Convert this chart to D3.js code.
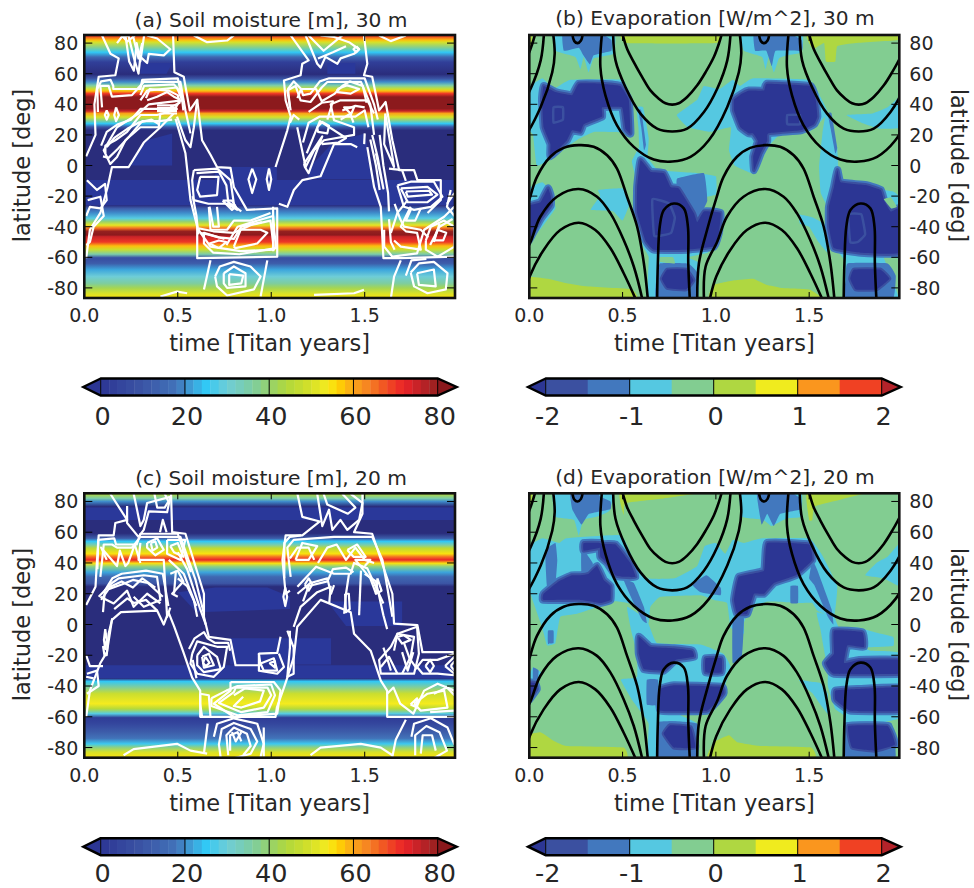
<!DOCTYPE html>
<html><head><meta charset="utf-8">
<script src="https://cdnjs.cloudflare.com/ajax/libs/d3/7.8.5/d3.min.js"></script>
<style>html,body{margin:0;background:#fff}svg{display:block}text{font-family:"DejaVu Sans";fill:#262626}</style>
</head><body><svg id="c" width="974" height="888"></svg>
<script>
// ---- soil moisture colour levels
const soilStops=[0,10,18,22,25,30,36,40,44,50,54,56,60,64,68,72,76,80,85];
const soilStopColors=["#2c3694","#3b55a5","#4273b9","#3ca5dc","#32c8f5","#6ecdd7","#7dcda0","#96d26e","#afd73c","#d7e128","#f5eb1e","#ffd700","#faa519","#f57d23","#f04b23","#eb2328","#be2328","#96201f","#8a181c"];
const evapLevels=[-2,-1.5,-1,-.5,0,.5,1,1.5,2];
const evapColors=["#3b50a0","#4278be","#55c8e1","#82cd91","#afd741","#f0eb1e","#fa961e","#f04123"];
const evapUnder="#2c3694", evapOver="#b4232a", soilUnder="#2c3694", soilOver="#8a181c";
const soilTicks=[0,20,40,60,80], evapTicks=[-2,-1,0,1,2];
const xTicks=[0,.5,1,1.5], yTicks=[80,60,40,20,0,-20,-40,-60,-80];
const titles=["(a) Soil moisture [m], 30 m","(b) Evaporation [W/m^2], 30 m","(c) Soil moisture [m], 20 m","(d) Evaporation [W/m^2], 20 m"];
// ---- soil profiles vs latitude
const soilLatA=[85,84.3,82,80.6,77.4,74,70.9,67.6,59.6,56.7,54.6,52.4,50,48.7,47,44.8,37.2,35.6,34,31.7,29.6,27.4,25.2,23,-26,-28,-31,-34.5,-36.7,-39,-41,-43,-45.4,-46.5,-50,-52.6,-55,-58,-60.2,-61,-64,-68,-72.6,-77,-80,-83.5,-87];
const soilValA=[70,68,58,50,38,25,15,3,0,10,20,35,48,58,70,84,84,75,60,50,38,25,10,1,1,12,20,28,40,52,65,80,84,75,70,58,48,35,10,8,12,22,30,36,42,50,55];
const soilLatC=[85,82,80,76.7,59.3,56,54,51.7,49.6,46,44,42,39.8,37.6,34,31,26.7,24.6,-35,-37,-40.6,-45,-51.5,-54.8,-58,-60.6,-64.5,-70,-74,-77.6,-79.8,-83,-87];
const soilValC=[45,35,20,1,0,12,25,35,46,55,65,72,55,38,22,15,10,1,1,25,36,48,54,45,28,2,5,12,18,26,38,50,55];
const shadeA=[[[0,-9.5],[1.98,-9.5],[1.98,-26],[0,-26]],[[.15,0],[.24,0],[.32,16],[.47,21],[.47,0]],[[.7,-1],[1.03,-1],[1.03,-9.5],[.7,-9.5]],[[1.2,-2],[1.33,15],[1.5,21],[1.55,-9],[1.2,-9]],[[.3,67],[.47,67],[.44,60],[.3,60]],[[1.3,67],[1.45,67],[1.45,60],[1.3,60]]];
const shadeC=[[[0,-26.5],[1.98,-26.5],[1.98,-35],[0,-35]],[[.78,-9],[1.32,-9],[1.32,-26],[.78,-26]],[[.5,21],[.7,24],[.98,24],[1.1,18],[1.1,10],[.6,8]],[[1.3,15],[1.7,15],[1.7,-1],[1.4,-1]],[[0,68],[1.98,68],[1.98,76],[0,76]]];
// ---- white contours, panel (a)
const whiteA=[
[[.01,6],[.06,20],[.054,40],[.077,58],[.166,59],[.184,70],[.14,73],[.095,85]],
[[.475,85],[.482,61],[.532,58],[.564,36],[.604,43],[.63,16.5],[.675,7],[.71,-1],[.782,-1.5],[.8,-14],[.87,-29],[1.032,-28],[1.032,-59.6],[.604,-60.6],[.604,-40],[.568,-22.6],[.541,8],[.488,30.6]],
[[.01,-60.6],[.03,-42],[.086,-31],[.125,-14],[.148,-1],[.2375,-1],[.318,15],[.407,25],[.478,34]],
[[1.023,-1],[1.086,23],[1.104,32],[1.077,42.6],[1.068,55.6],[1.157,59],[1.166,66.5],[1.2,68.7],[1.104,85]],
[[1.496,85],[1.514,66.5],[1.496,59],[1.54,58],[1.577,36],[1.612,41.5],[1.648,16.5],[1.684,-3],[1.764,-3],[1.782,-9.6],[1.907,-9.6],[1.907,-22.6],[1.836,-31]],
[[1.514,12],[1.55,-14],[1.586,-27],[1.6,-60.6],[1.693,-60.6],[1.979,-59.6]],
[[1.041,-25],[1.086,-27],[1.121,-16],[1.166,-9.6],[1.264,-7],[1.336,14],[1.425,14],[1.46,12]],
[[.675,-62],[.64,-81]],[[.979,-62],[.943,-85.6]],
[[1.693,-62],[1.657,-72.6],[1.64,-86.7]],
[[.407,-85.6],[.496,-82.4],[.55,-83.5]],[[1.229,-84.6],[1.443,-83.5],[1.496,-81.3]],
[[.586,85],[.657,80.6],[.764,81.7],[.8,85]],[[1.577,85],[1.639,81.3],[1.72,85]],
[[.095,38],[.086,52],[.13,52],[.148,45],[.255,46],[.291,51],[.318,54.6],[.514,54.6],[.541,36],[.568,21]],
[[.3,42.6],[.336,49],[.496,51],[.523,42.6],[.345,40],[.291,34],[.175,25],[.104,10],[.139,1],[.175,5.6],[.22,16.5],[.3,25],[.398,25],[.407,34],[.496,34]],
[[.113,8],[.1125,13],[.166,16.5],[.229,22],[.3,33],[.389,33],[.48,36],[.514,43]],
[[.336,42.6],[.389,45],[.443,48],[.479,45],[.514,43]],
[[.389,39.3],[.496,39.3]],[[.389,37.5],[.496,37.5]],[[.389,35.6],[.496,35.6]],
[[.12,36],[.13,33],[.12,30],[.11,33],[.12,36]],[[.17,38],[.185,33],[.17,29],[.16,33],[.17,38]],
[[.496,32],[.541,16.5],[.568,12],[.586,25],[.604,43]],
[[.62,-7.4],[.718,-7.4],[.71,-19.3],[.62,-20.4],[.604,-16],[.62,-7.4]],
[[.586,-3],[.711,-2],[.782,-9.6],[.8,-25],[.818,-29],[.764,-25],[.664,-25],[.586,-22.6],[.577,-9.6],[.586,-3]],
[[.898,-2],[.92,-9],[.898,-18],[.878,-9],[.898,-2]],[[.988,-2],[1,-9],[.988,-16],[.976,-9],[.988,-2]],
[[.666,-27],[.675,-42],[.764,-42],[.8,-36],[.889,-36],[.996,-31]],
[[.61,-41],[.69,-43],[.8,-44],[.836,-42],[.889,-39],[.996,-36],[1.014,-55],[.836,-56],[.675,-53],[.61,-42]],
[[.8,-53],[.836,-42],[.943,-42],[.979,-44],[.925,-51],[.809,-54],[.8,-53]],
[[.76,-52],[.82,-40],[.9,-37],[1.01,-33],[1.025,-54],[.83,-58],[.69,-57],[.64,-51],[.64,-44],[.75,-48]],
[[.7,-72.6],[.725,-66],[.8,-63],[.889,-66],[.943,-72.6],[.907,-81],[.764,-85],[.71,-79],[.7,-72.6]],
[[.746,-70.4],[.8,-66],[.8625,-70.4],[.8625,-79],[.764,-80],[.746,-77],[.746,-70.4]],
[[.775,-71],[.85,-72],[.84,-77],[.775,-78],[.775,-71]],
[[.175,80],[.2,84],[.236,85],[.264,71],[.29,60],[.3,71],[.336,67],[.345,73],[.425,72],[.46,76],[.39,83],[.336,85]],
[[.2,85],[.23,81],[.27,85]],
[[1.184,85],[1.246,66.5],[1.264,64],[1.29,71],[1.354,66.5],[1.371,70],[1.443,73],[1.47,76],[1.416,80.6],[1.336,84],[1.264,85]],
[[1.455,78],[1.47,76],[1.455,74],[1.44,76],[1.455,78]],
[[.014,-9.6],[.068,-16],[.111,-12],[.12,-22.6],[.086,-28],[.03,-27],[.01,-33]],
[[.018,-22.6],[.086,-20.4],[.104,-33],[.05,-40],[.03,-50],[.01,-52]],
[[1.104,36],[1.086,49],[1.13,52],[1.157,42.6],[1.21,41.5],[1.27,51],[1.3,54.6],[1.48,54.6],[1.53,40],[1.55,20]],
[[1.354,50],[1.407,52.4],[1.47,50],[1.425,47],[1.354,48],[1.354,50]],
[[1.139,25],[1.184,-1],[1.229,10],[1.282,16.5],[1.443,20],[1.443,25],[1.336,29.6],[1.318,40],[1.371,42.6],[1.514,42.6],[1.55,34]],
[[1.246,25],[1.273,28.5],[1.309,26],[1.3,21],[1.25,22],[1.246,25]],
[[1.371,30],[1.425,34],[1.39,38],[1.443,38],[1.425,33],[1.44,28]],
[[1.175,1],[1.246,14],[1.273,19],[1.2,-5],[1.18,-1],[1.175,1]],
[[1.61,34],[1.64,12],[1.657,-1],[1.604,14],[1.61,34]],[[1.5,21],[1.497,14]],
[[1.54,20],[1.57,5],[1.6,-15],[1.56,8]],
[[1.675,-13],[1.746,-10.6],[1.87,-10.6],[1.916,-20.4],[1.854,-27],[1.764,-29],[1.71,-27],[1.675,-13]],
[[1.693,-15],[1.836,-14],[1.889,-19],[1.836,-24],[1.73,-24],[1.71,-19],[1.693,-15]],
[[1.72,-17],[1.845,-16.5],[1.86,-19],[1.73,-20.4],[1.72,-17]],
[[1.604,-42],[1.604,-53],[1.648,-59.6],[1.78,-57.4],[1.818,-42],[1.925,-33.5],[1.979,-27]],
[[1.64,-44],[1.675,-31],[1.73,-22.6]],
[[1.657,-49],[1.693,-53],[1.8,-55],[1.78,-44],[1.72,-43],[1.693,-40],[1.746,-27]],
[[1.827,-49],[1.854,-40],[1.925,-36],[1.98,-40],[1.98,-53],[1.89,-59.6],[1.827,-55],[1.827,-49]],
[[1.88,-45],[1.89,-42],[1.936,-44],[1.92,-49],[1.87,-49],[1.88,-45]],
[[1.746,-70],[1.79,-64],[1.87,-63],[1.943,-70.4],[1.934,-81],[1.836,-83.5],[1.764,-79],[1.746,-70]],
[[1.78,-70.4],[1.87,-68],[1.88,-79],[1.79,-78],[1.78,-70.4]],
[[1.96,-16],[1.94,-27],[1.98,-33]],
[[.073,35],[.07,50],[.09,55],[.14,56],[.155,52],[.155,50],[.3,50],[.31,56],[.5,57],[.53,40]],
[[.3,46],[.32,52],[.48,53],[.52,47],[.53,36]],[[.33,44],[.35,50],[.45,49],[.5,46],[.51,41],[.46,38]],
[[.09,13],[.12,22],[.18,27],[.25,30],[.3,37],[.4,37],[.5,37]],[[.1,6],[.13,5],[.18,11],[.24,19],[.31,29],[.4,29],[.47,30]],[[.12,12],[.16,18],[.23,24],[.29,28],[.36,30],[.4,27]],
[[.6,-5],[.72,-4],[.76,-13],[.77,-24],[.84,-30]],[[.67,-27],[.69,-40],[.72,-40],[.71,-27]],[[.74,-23],[.79,-29],[.81,-27],[.79,-23],[.74,-23]],
[[.62,-44],[.66,-45],[.72,-47],[.8,-48],[.84,-40],[.95,-37]],[[.72,-54],[.76,-50],[.72,-49],[.67,-51],[.72,-54]],[[.58,-20],[.6,-33],[.61,-45]],[[1.01,-27],[1.01,-56]],
[[.22,85],[.24,68],[.265,62],[.28,80],[.3,68],[.32,85]],[[.26,85],[.29,70],[.31,80]],
[[1.1,38],[1.09,50],[1.12,55],[1.16,50],[1.17,46],[1.21,47],[1.26,55],[1.31,57],[1.5,57],[1.55,40],[1.57,30]],
[[1.14,44],[1.16,50],[1.24,50],[1.27,42],[1.34,47],[1.38,52],[1.42,55],[1.49,52],[1.51,41]],
[[1.2,35],[1.27,41],[1.33,42],[1.3,30]],[[1.17,15],[1.2,28],[1.26,32],[1.45,32],[1.5,36],[1.52,25]],
[[1.19,8],[1.23,20],[1.26,29],[1.4,18],[1.36,15],[1.27,14]],[[1.38,36],[1.45,39],[1.5,38]],[[1.1,28],[1.12,33],[1.15,30]],
[[1.58,20],[1.6,0],[1.625,-18],[1.63,-30]],[[1.53,17],[1.56,0],[1.58,-16]],[[1.63,-35],[1.64,-50],[1.66,-55]],
[[1.63,-2],[1.7,-3],[1.72,-10]],[[1.66,-25],[1.69,-35],[1.71,-40],[1.8,-42],[1.84,-47]],[[1.75,-28],[1.72,-36],[1.77,-36],[1.8,-28]],
[[1.85,-52],[1.9,-40],[1.97,-35]],[[1.87,-50],[1.9,-38]],[[1.94,-25],[1.98,-18]],[[1.72,-72],[1.75,-62],[1.83,-61]],
[[1.2,85],[1.28,75],[1.33,80],[1.38,85]],[[1.25,70],[1.33,74],[1.4,78]]];
// ---- white contours, panel (c)
const whiteC=[
[[.01,12.6],[.06,24.6],[.068,42],[.077,58],[.157,58],[.166,66],[.229,68],[.139,85]],
[[.464,85],[.47,60],[.541,59],[.64,20],[.64,5],[.666,-8],[.782,-10],[.809,-26.5],[.943,-26.5],[.934,-19],[1.032,-18.5],[1.05,-8]],
[[.01,-60],[.03,-43],[.086,-25],[.121,-18],[.148,3],[.196,8],[.39,9],[.425,0],[.45,8],[.48,-1],[.53,-18],[.577,-34.5],[.62,-43],[.62,-60],[1.023,-60],[1.03,-54],[1.068,-41],[1.086,-34.5],[1.121,-21],[1.139,-1.5],[1.264,16],[1.425,8],[1.443,-6],[1.532,-17],[1.586,-36.5],[1.62,-43],[1.62,-60],[1.98,-60]],
[[1.488,85],[1.488,72],[1.443,60],[1.54,59],[1.648,20],[1.657,.6],[1.782,-.4],[1.809,-18],[1.98,-18]],
[[1.14,85],[1.166,70],[1.26,67],[1.166,58],[1.077,58],[1.06,42],[1.077,20],[1.1,22]],
[[.086,31],[.104,52],[.148,52],[.175,50],[.255,50],[.3,57],[.514,57],[.595,29],[.64,7]],
[[.12,42],[.09,50],[.175,38],[.19,48],[.22,38],[.235,40],[.27,52],[.3,40]],
[[.3,53],[.29,42],[.425,42],[.443,5],[.46,11]],
[[.336,53],[.39,56],[.425,48.5],[.38,45],[.336,50],[.336,53]],[[.356,53],[.38,54],[.39,50],[.365,48],[.356,53]],
[[.443,55],[.54,55],[.514,42],[.443,46],[.443,55]],[[.46,51],[.5,53],[.53,44],[.48,47],[.46,51]],
[[.452,42],[.532,33],[.586,16],[.604,5]],[[.48,20],[.49,35]],
[[.077,18],[.148,27],[.184,30],[.318,32],[.389,31],[.407,16],[.318,11.5],[.264,18]],
[[.086,18],[.157,13.7],[.229,22],[.264,11.5],[.336,20],[.407,13.7]],
[[.13,24],[.2,28],[.26,24],[.31,30],[.38,24]],[[.16,10],[.23,17],[.265,14],[.33,16],[.39,9]],
[[.112,-3],[.12,-10],[.112,-16],[.105,-10],[.112,-3]],[[.1,-14],[.108,-20],[.12,-20],[.13,-6],[.15,4]],
[[.264,85],[.273,80],[.3,64],[.318,68],[.336,79],[.46,83],[.443,73],[.345,73.5],[.318,61.5],[.29,57],[.229,66],[.229,77]],
[[.375,85],[.39,76],[.43,76],[.45,80],[.43,85]],[[.405,60],[.42,68],[.44,60]],
[[.577,-19],[.604,-11],[.71,-14.5],[.764,-14.5],[.746,-27.6],[.693,-34],[.604,-32],[.568,-25.4],[.577,-19]],
[[.604,-20],[.64,-14.5],[.71,-21],[.73,-29],[.64,-31],[.604,-26.5],[.604,-20]],
[[.63,-21],[.666,-19],[.693,-26.5],[.64,-28],[.63,-21]],[[.648,-21],[.67,-25],[.65,-27],[.635,-25],[.648,-21]],
[[.782,-37.4],[1.014,-37.4],[1.05,-43],[1.032,-58],[.8,-60],[.693,-51.5],[.782,-43],[.782,-37.4]],
[[.81,-41],[.98,-41],[1,-46],[.96,-54],[.84,-57],[.72,-51],[.8,-44],[.81,-41]],
[[.8,-46],[.86,-41.5],[.96,-43],[.94,-50],[.84,-54],[.8,-53],[.85,-47]],
[[.62,-45],[.666,-46],[.675,-60],[.63,-60],[.62,-51.5],[.62,-45]],
[[.693,-73],[.71,-64.5],[.8,-61],[.925,-64.5],[.96,-77.6],[.943,-86]],
[[.73,-87],[.72,-78],[.735,-68],[.8,-64],[.89,-68],[.925,-76],[.89,-84],[.8,-87]],
[[.77,-85],[.76,-72],[.8,-67],[.87,-71],[.89,-79],[.85,-85]],
[[.78,-82],[.78,-72],[.82,-70],[.84,-76]],[[.79,-70],[.81,-76],[.84,-70]],
[[.21,-85],[.264,-81],[.496,-77.6],[.568,-82],[.657,-84]],[[1.21,-85],[1.264,-80],[1.479,-77.6],[1.586,-80],[1.648,-85]],
[[.66,-64.5],[.64,-84]],[[.96,-67],[.96,-86]],[[1.72,-62],[1.666,-75],[1.648,-86]],
[[1.75,-73],[1.764,-64.5],[1.854,-61],[1.943,-67],[1.98,-78]],
[[1.77,-85],[1.77,-72],[1.83,-66],[1.9,-70],[1.94,-82],[1.87,-87]],[[1.8,-84],[1.81,-72],[1.86,-72],[1.88,-82]],
[[.014,-32],[.068,-30],[.077,-40],[.014,-45]],
[[.934,-19],[.934,-30],[1.032,-32],[1.068,-27.6],[1.041,-19]],[[.943,-25.4],[1.014,-22],[1.032,-30],[.96,-30],[.943,-25.4]],[[.99,-25],[1.02,-24],[1.02,-28],[.99,-25]],
[[1.086,-4],[1.12,-15],[1.12,-32],[1.086,-34],[1.1,-15],[1.1,-4]],
[[1.104,31],[1.086,50],[1.12,55],[1.336,57],[1.54,57],[1.595,42],[1.648,5]],
[[1.13,42],[1.166,53],[1.246,51],[1.2,42],[1.13,42]],[[1.25,40],[1.3,50],[1.35,52],[1.4,42],[1.45,50],[1.5,42],[1.55,40]],
[[1.407,48.5],[1.46,52],[1.505,44],[1.44,44],[1.407,48.5]],[[1.5,38],[1.53,42],[1.45,42],[1.53,30],[1.56,20]],
[[1.14,24.6],[1.24,37.6],[1.336,33],[1.425,33],[1.443,40],[1.514,36.5],[1.6,13.7]],
[[1.14,20],[1.21,27],[1.3,30],[1.32,20],[1.336,25.6]],[[1.12,-1.5],[1.157,11.5],[1.246,21],[1.318,24.6],[1.31,13.7]],
[[1.18,26],[1.2,30],[1.22,26],[1.2,22],[1.18,26]],[[1.075,24],[1.085,18],[1.075,12],[1.065,18],[1.075,24]],
[[1.39,7],[1.4,20],[1.416,33]],[[1.395,20],[1.415,20],[1.42,10],[1.4,8],[1.395,20]],[[1.568,30],[1.59,22],[1.56,20],[1.568,30]],[[1.47,6],[1.48,35]],
[[1.64,-14.5],[1.675,-6],[1.78,-1.5],[1.79,-19],[1.764,-32],[1.586,-32],[1.577,-23],[1.64,-14.5]],
[[1.657,-17],[1.675,-6],[1.764,-8],[1.746,-21],[1.7,-32]],[[1.675,-8],[1.71,-7],[1.746,-10],[1.7,-12.4],[1.675,-8]],
[[1.586,-27.6],[1.63,-21],[1.675,-32]],[[1.7,-18],[1.73,-30],[1.76,-18]],
[[1.78,-27.6],[1.81,-23],[1.889,-23],[1.98,-19]],[[1.78,-27.6],[1.81,-32],[1.889,-32],[1.98,-33]],
[[1.825,-27],[1.85,-23],[1.87,-27],[1.85,-31],[1.825,-27]],[[1.93,-27],[1.98,-21]],[[1.93,-27],[1.98,-32]],[[1.96,-27],[1.98,-24]],[[1.96,-27],[1.98,-30]],
[[1.62,-45],[1.654,-41],[1.69,-51.5],[1.76,-58],[1.818,-43],[1.89,-38.5],[1.98,-43]],
[[1.764,-51.5],[1.836,-45],[1.925,-43],[1.943,-54],[1.8,-56],[1.764,-51.5]],[[1.745,-52],[1.78,-48],[1.78,-54],[1.745,-52]],
[[1.87,-45],[1.94,-41],[1.98,-46]],[[1.98,-56],[1.85,-57]],
[[1.246,85],[1.273,64],[1.309,74.6],[1.327,61.5],[1.37,68],[1.407,61.5],[1.47,68],[1.488,79],[1.425,85]],
[[1.28,85],[1.3,78],[1.41,72],[1.45,76],[1.38,85]],[[.01,-20],[.03,-27],[.1,-27]],[[.01,-34],[.05,-35]],
[[.07,36],[.075,55],[.16,56],[.17,52],[.28,52],[.3,59],[.5,59],[.57,34]],
[[.1,8],[.11,22],[.15,30],[.2,33],[.33,35],[.42,33],[.45,12]],[[.09,16],[.13,23],[.2,26],[.26,29],[.34,27],[.42,18]],
[[.5,47],[.55,36],[.62,10],[.65,0]],[[.5,30],[.55,25],[.6,12]],[[.46,33],[.5,35],[.53,28],[.47,20],[.5,18]],
[[.58,-23],[.6,-35]],[[.56,-16],[.59,-9],[.64,-5],[.66,-9],[.7,-12],[.77,-12],[.78,-17]],
[[.68,-48],[.76,-43],[.82,-40],[1,-39],[1.02,-46],[.98,-57],[.82,-59],[.68,-53],[.68,-48]],
[[1.07,30],[1.07,53],[1.1,57],[1.16,58]],[[1.1,43],[1.14,50],[1.2,50],[1.23,42]],
[[1.17,15],[1.2,25],[1.3,28],[1.33,36],[1.4,37],[1.44,34]],[[1.5,33],[1.56,28],[1.6,6],[1.62,-3]],
[[1.6,-15],[1.62,-22],[1.64,-30]],[[1.71,-12],[1.74,-22],[1.78,-29]]];
// ---- black contours (one annual cycle, repeated each year)
const blackCurves=[
[[.497,87],[.524,76.3],[.56,67.6],[.605,57.8],[.649,49.1],[.694,43.7],[.73,40.7],[.766,39.8],[.801,40.7],[.846,44.8],[.9,52.4],[.945,61],[.989,70.9],[1.016,79.6],[1.034,87]],
[[.449,87],[.462,68.7],[.515,51.3],[.596,33.9],[.685,24.1],[.766,22.2],[.846,24.1],[.936,35],[1.007,50.2],[1.061,68.7],[1.079,87]],
[[.39,87],[.381,64.3],[.408,45.9],[.47,26.3],[.56,12.2],[.667,3.9],[.766,2.6],[.864,5.7],[.962,16.5],[1.061,38.3],[1.123,61],[1.136,73],[1.127,87]],
[[-.1,-87],[-.091,-63.9],[-.047,-42],[.002,-21.5],[.041,-7.4],[.113,5.7],[.184,11.5],[.265,13.3],[.345,12.2],[.417,6.7],[.47,-2],[.524,-20.4],[.578,-40],[.614,-63.9],[.635,-87]],
[[-.064,-87],[-.055,-66],[.007,-49.8],[.059,-33.5],[.148,-20.4],[.265,-15.4],[.363,-20.4],[.435,-31.3],[.506,-48.7],[.56,-66],[.605,-87]],
[[-.032,-87],[.002,-72.6],[.077,-55.2],[.166,-42.2],[.265,-37.4],[.354,-42.2],[.435,-54.1],[.506,-70.4],[.569,-87]],
[[.685,-87],[.689,-63.9],[.699,-40],[.721,-29.1],[.775,-24.8],[.828,-28],[.85,-40],[.852,-63.9],[.86,-87]],
[[.229,87],[.241,81.3],[.259,80],[.277,81.7],[.288,87]]];
const cycleYears=[-1,0,1];
// ---- evaporation regions, panel (b)
const bYellow=[[[0,-73],[.1,-74],[.2,-77],[.3,-79],[.55,-81],[.57,-88],[0,-88]],[[.97,-88],[.99,-78],[1.1,-75],[1.2,-74],[1.27,-78],[1.35,-80],[1.5,-81],[1.57,-88]],[[.5,87],[.52,80],[1,80],[1.02,87]],[[1.49,87],[1.52,76],[1.58,80],[1.59,68],[1.64,68],[1.65,78],[1.75,80],[1.98,82],[1.99,87]],[[-.01,87],[.02,87],[.01,78],[-.01,76]]];
const bLight=[
[[.13,87],[.14,75],[.247,71],[.274,63],[.292,71],[.318,61],[.345,70],[.453,73],[.453,87]],
[[1.136,87],[1.15,75],[1.248,71],[1.266,63],[1.284,71],[1.311,61],[1.338,70],[1.383,72],[1.46,74],[1.46,87]],
[[-.01,50],[.07,57],[.13,50],[.22,56],[.5,56],[.55,42],[.55,22],[.35,22],[.26,17],[.2,12],[.11,4],[.04,0],[.02,20],[-.01,25]],
[[.79,33],[.9,43],[.935,52],[1.02,50],[1.09,56],[1.13,52],[1.2,57],[1.5,56],[1.56,45],[1.6,34],[1.5,22],[1.36,22],[1.3,15],[1.27,10],[1.24,2],[1.2,-5],[1.17,-4],[1.1,0],[1.07,10],[1.08,25],[.97,22],[.85,25]],
[[1.7,33],[1.84,34],[1.92,38],[1.99,45],[1.99,25],[1.88,24],[1.78,28]],
[[.575,38],[.61,38],[.64,18],[.63,3],[.59,12],[.585,25]],
[[.55,3],[.59,12],[.63,6],[.69,-3],[.9,-5],[1,-7],[1,-19],[.9,-22],[.91,-31],[1.02,-29],[1.05,-36],[.99,-51],[.955,-57],[.85,-60],[.91,-64],[.9,-88],[.64,-88],[.64,-60],[.61,-53],[.58,-33],[.58,-14],[.56,-3]],
[[.37,-16],[.5,-15],[.54,-24],[.5,-36],[.45,-30],[.33,-29],[.38,-20]],
[[-.01,-16],[.07,-11],[.12,-18],[.14,-28],[.07,-40],[-.01,-50]],
[[1.589,34],[1.61,30],[1.65,12],[1.66,-8],[1.72,-10],[1.85,-15],[1.95,-17],[1.99,-22],[1.99,-60],[1.9,-60],[1.98,-88],[1.687,-88],[1.687,-62],[1.633,-53],[1.597,-40],[1.597,-27],[1.562,-18],[1.553,-1],[1.571,21]],
[[1.445,-32],[1.52,-34],[1.6,-40],[1.6,-57],[1.55,-50],[1.5,-40],[1.45,-38]]];
const bMid=[
[[.18,87],[.185,75],[.265,77],[.29,72],[.325,66],[.345,72],[.44,75],[.44,82],[.37,87]],
[[1.204,87],[1.21,75],[1.27,75],[1.3,65],[1.32,75],[1.46,75],[1.46,82],[1.38,87]],
[[.585,36],[.6,36],[.625,14],[.615,10],[.6,25]],[[1.6,34],[1.62,34],[1.65,12],[1.64,8],[1.615,24]],
[[.793,-8.5],[.936,-5],[.954,-23],[.9,-36],[.864,-27],[.793,-15]],
[[.7,-64],[.85,-64],[.9,-70],[.89,-88],[.68,-88],[.68,-75]],[[1.705,-64],[1.92,-64],[1.964,-72],[1.946,-88],[1.687,-88],[1.696,-75]]];
const bDark=[
[[.068,43],[.077,52],[.14,48],[.229,46],[.265,53.5],[.381,53.5],[.488,52],[.533,43],[.542,21],[.515,24],[.497,38],[.39,38],[.39,32],[.292,27],[.274,22],[.229,23],[.202,16.5],[.166,12],[.113,6],[.113,14],[.077,25]],
[[.596,3.5],[.649,-4],[.721,-5],[.757,-14],[.801,-15],[.882,-31],[.9,-37],[.936,-30],[1.025,-31],[1.016,-44],[.989,-53],[.846,-55],[.667,-55],[.623,-49],[.578,-31],[.578,-14]],
[[.74,-68],[.84,-68],[.88,-75],[.84,-81],[.74,-80],[.71,-74]],
[[-.01,-27],[.06,-24],[.1,-15],[.115,-20],[.115,-26],[.06,-35],[-.01,-50]],
[[1.097,43],[1.141,47],[1.177,49],[1.258,49],[1.275,53.5],[1.508,52],[1.535,43],[1.544,32],[1.526,27],[1.454,23],[1.28,21],[1.275,16],[1.24,8],[1.205,-3],[1.2,6],[1.225,16],[1.2,21],[1.177,21],[1.132,25],[1.097,36]],
[[1.651,-3],[1.669,-11],[1.812,-13],[1.884,-16],[1.902,-23],[1.937,-30],[1.99,-28],[1.99,-57],[1.776,-57],[1.633,-54],[1.606,-40],[1.606,-27],[1.633,-14]],
[[1.74,-68],[1.88,-68],[1.93,-74],[1.86,-81],[1.75,-81],[1.72,-74]]];
const bInner=[[[.13,38],[.18,38],[.18,30],[.13,28]],[[.66,-22],[.75,-25],[.78,-34],[.76,-44],[.67,-46]],[[1.71,-32],[1.78,-32],[1.8,-45],[1.76,-50],[1.72,-50]],[[1.383,33],[1.45,33],[1.45,27],[1.383,27]]];
const bGreen=[[[.7,-60],[.77,-60],[.78,-64],[.7,-63]],[[1.9,-22],[1.94,-28],[1.97,-27],[1.94,-21]]];
// ---- evaporation regions, panel (d)
const dYellow=[[[-.01,-72],[.06,-70],[.13,-75.5],[.2,-79],[.505,-80],[.515,-88],[-.01,-88]],[[.96,-88],[.99,-76.5],[1.07,-72],[1.115,-76.5],[1.24,-79],[1.51,-80],[1.525,-88]],[[.49,87],[.506,71],[.515,79],[.72,82],[.99,87]],[[1.49,87],[1.5,68],[1.517,68],[1.535,77],[1.85,87]],[[-.01,87],[.02,87],[.01,76],[-.01,74]]];
const dLight=[
[[.13,87],[.14,70],[.24,68],[.265,58],[.29,68],[.36,70],[.43,74],[.45,87]],
[[1.132,87],[1.14,70],[1.255,68],[1.3,64],[1.38,69],[1.455,70],[1.455,87]],
[[-.01,50],[.07,56],[.16,53],[.2,56],[.49,58],[.56,42],[.63,30],[.78,30],[.9,38],[.94,51],[1,53],[1.05,46],[1.09,55],[1.15,53],[1.25,56],[1.5,56],[1.57,45],[1.65,25],[1.633,5],[1.544,9],[1.517,14],[1.454,14],[1.275,15],[1.177,9],[1.15,1],[1.15,-6],[1.079,-2],[1.06,14],[.989,16],[.918,19],[.703,18],[.649,11.5],[.64,1],[.63,3],[.596,11.5],[.524,14],[.453,15],[.256,7],[.166,5],[.14,-12],[.095,-13.5],[.068,-1.5],[.023,14],[-.01,27]],
[[.524,11.5],[.63,3],[.685,-12],[.918,-13],[1.04,-19],[1.079,-27.6],[1.034,-45],[.953,-58],[.81,-59],[.9,-64.5],[.9,-88],[.64,-88],[.64,-64.5],[.605,-58],[.55,-49],[.49,-36],[.55,-35],[.578,-34],[.578,-19],[.55,-6]],
[[.02,-28],[.07,-32],[.02,-43],[-.01,-45],[-.01,-36]],
[[1.633,5],[1.66,-2],[1.76,-2],[1.85,-5],[1.95,-8],[1.95,-14],[1.8,-15],[1.83,-17],[1.99,-19],[1.99,-60],[1.9,-64],[1.94,-88],[1.69,-88],[1.69,-60],[1.64,-55],[1.6,-40],[1.6,-30],[1.57,-10],[1.56,-3],[1.54,8]],
[[1.8,32],[1.86,40],[1.92,44],[1.99,53],[1.99,25],[1.9,30]],
[[1.445,-36],[1.5,-37],[1.56,-38],[1.6,-45],[1.6,-58],[1.56,-52],[1.52,-45],[1.47,-40]]];
const dMid=[
[[.22,87],[.23,75],[.28,65],[.32,72],[.435,75],[.435,80],[.38,83],[.36,87]],
[[1.22,87],[1.245,65],[1.275,72],[1.31,64],[1.345,72],[1.455,75],[1.455,82],[1.38,87]],
[[.873,26],[.95,32],[1.025,24],[1.025,19],[.918,21]],
[[.095,25],[.086,48],[.14,53],[.15,42],[.14,27]],[[.28,50],[.34,40],[.33,34],[.28,34]],
[[.506,29],[.56,27],[.614,11.5],[.63,1],[.605,3],[.56,14]],[[.1,-4],[.13,-4],[.13,-12],[.1,-12]],
[[1.517,42],[1.545,35],[1.62,10],[1.63,0],[1.6,5],[1.53,25],[1.5,30]],[[1.09,4],[1.15,4],[1.14,-20],[1.09,-25]],[[1.4,25],[1.44,25],[1.44,14],[1.4,14]],
[[.63,-36],[.69,-36],[.69,-52],[.63,-52]],[[.694,-63.5],[.9,-64.5],[.9,-88],[.685,-88]],[[1.69,-64],[1.94,-64],[1.96,-88],[1.7,-88]],
[[.02,-28],[.05,-30],[.04,-42],[.02,-42]]];
const dDark=[
[[.077,16],[.077,20],[.157,28],[.229,32],[.274,32],[.318,33],[.363,38],[.399,29],[.435,25],[.435,16],[.381,14],[.274,16]],
[[.381,52],[.462,52],[.542,40],[.569,31],[.5,31],[.462,32],[.417,40],[.381,44]],[[.292,53],[.381,53],[.381,50],[.292,48]],
[[.587,-8],[.649,-14.5],[.775,-15.5],[.873,-17],[.882,-21],[.784,-23],[.721,-30],[.614,-29],[.587,-19]],
[[.945,-22],[1.03,-22],[1.03,-31],[.945,-31]],[[.703,-42],[.775,-39.5],[1.03,-40.5],[1.04,-45],[.953,-56],[.703,-56]],
[[.755,-65.5],[.864,-66.7],[.89,-80],[.775,-80],[.72,-71]],[[-.01,-38],[.03,-38],[.04,-42],[-.01,-50]],
[[1.123,31],[1.258,35],[1.275,53],[1.499,52],[1.517,42],[1.428,32],[1.311,27],[1.258,20],[1.204,20],[1.168,7],[1.114,7],[1.097,16]],
[[1.633,-4],[1.785,-5],[1.794,-14.5],[1.705,-13.5],[1.687,-25],[1.767,-23],[1.99,-23],[1.99,-32],[1.633,-32],[1.589,-25],[1.633,-19]],
[[1.641,-43],[1.76,-42],[1.99,-41],[1.99,-56],[1.72,-56],[1.641,-49]],[[1.71,-66],[1.92,-66],[1.96,-78],[1.85,-82],[1.73,-80]]];
const dInner=[];
const dGreen=[];

// ---- drawing
const svg=d3.select("#c"), defs=svg.append("defs");
const soilColor=d3.scaleLinear().domain(soilStops).range(soilStopColors).clamp(true);
const panels=[
 {kind:"soil",l:84.3,r:455,t:35,b:298,title:titles[0],tx:271,ty:27,side:"left",lats:soilLatA,vals:soilValA,shade:shadeA,white:whiteA,lastRow:false},
 {kind:"evap",l:529.3,r:899.3,t:35,b:298,title:titles[1],tx:715,ty:25,side:"right",yellow:bYellow,light:bLight,mid:bMid,dark:bDark,inner:bInner,green:bGreen,lastRow:false},
 {kind:"soil",l:84.3,r:455,t:493.3,b:757.7,title:titles[2],tx:271,ty:485,side:"left",lats:soilLatC,vals:soilValC,shade:shadeC,white:whiteC,lastRow:true},
 {kind:"evap",l:529.3,r:899.3,t:493.3,b:757.7,title:titles[3],tx:715,ty:484,side:"right",yellow:dYellow,light:dLight,mid:dMid,dark:dDark,inner:dInner,green:dGreen,lastRow:true}];
panels.forEach((p,i)=>{
 const x=d3.scaleLinear().domain([0,1.983]).range([p.l,p.r]);
 const y=d3.scaleLinear().domain([85.3,-86.6]).range([p.t,p.b]);
 const pt=d3.line().x(d=>x(d[0])).y(d=>y(d[1]));
 const poly=d3.line().x(d=>x(d[0])).y(d=>y(d[1])).curve(d3.curveCardinalClosed.tension(.7));
 const clipId="clip"+i;
 defs.append("clipPath").attr("id",clipId).append("rect").attr("x",p.l).attr("y",p.t).attr("width",p.r-p.l).attr("height",p.b-p.t);
 const g=svg.append("g").attr("clip-path",`url(#${clipId})`);
 if(p.kind==="soil"){
  const gid="grad"+i;
  const grad=defs.append("linearGradient").attr("id",gid).attr("gradientUnits","userSpaceOnUse").attr("x1",0).attr("x2",0).attr("y1",p.t).attr("y2",p.b);
  grad.selectAll("stop").data(p.lats).join("stop").attr("offset",d=>Math.min(1,Math.max(0,(y(d)-p.t)/(p.b-p.t)))).attr("stop-color",(d,j)=>p.vals[j]<=1?"#2a2d7c":soilColor(p.vals[j]));
  g.append("rect").attr("x",p.l).attr("y",p.t).attr("width",p.r-p.l).attr("height",p.b-p.t).attr("fill",`url(#${gid})`);
  g.append("g").selectAll("path").data(p.shade).join("path").attr("d",d=>pt(d)+"Z").attr("fill","#2a389a");
  g.append("g").selectAll("path").data(p.white).join("path").attr("d",pt).attr("fill","none").attr("stroke","#fff").attr("stroke-width",2.2).attr("stroke-linejoin","round");
 } else {
  const col=v=>evapColors[evapLevels.indexOf(v)];
  g.append("rect").attr("x",p.l).attr("y",p.t).attr("width",p.r-p.l).attr("height",p.b-p.t).attr("fill",col(-.5));
  const layer=(data,fill,stroke,sw)=>g.append("g").selectAll("path").data(data).join("path").attr("d",poly).attr("fill",fill).attr("stroke",stroke||"none").attr("stroke-width",sw||0).attr("stroke-linejoin","round");
  layer(p.yellow,col(0));
  layer(p.light,col(-1));
  layer(p.mid,col(-1.5));
  layer(p.dark,col(-1.5),col(-1.5),8);
  layer(p.dark,col(-2),col(-2),4);
  layer(p.dark,evapUnder);
  layer(p.inner,evapUnder,col(-2),2.5);
  layer(p.green,col(-.5));
  const c=g.append("g");
  cycleYears.forEach(yr=>{
   c.append("g").selectAll("path").data(blackCurves).join("path")
    .attr("d",d3.line().x(d=>x(d[0]+yr)).y(d=>y(d[1])).curve(d3.curveCatmullRom.alpha(.5)))
    .attr("fill","none").attr("stroke","#000").attr("stroke-width",2.6);
  });
 }
 // ticks
 const f=svg.append("g");
 const line=(a,b,c,d)=>f.append("line").attr("x1",a).attr("y1",b).attr("x2",c).attr("y2",d).attr("stroke","#000").attr("stroke-width",1);
 xTicks.forEach(t=>{line(x(t),p.b,x(t),p.b-6);line(x(t),p.t,x(t),p.t+6);
  f.append("text").attr("x",x(t)).attr("y",p.b+24).attr("text-anchor","middle").attr("font-size",19).text(d3.format(".1f")(t));});
 yTicks.forEach(t=>{line(p.l,y(t),p.l+8,y(t));line(p.r,y(t),p.r-8,y(t));
  const lab=f.append("text").attr("y",y(t)+7).attr("font-size",19).text(t);
  if(p.side==="left")lab.attr("x",p.l-6).attr("text-anchor","end"); else lab.attr("x",p.r+10);});
 f.append("rect").attr("x",p.l).attr("y",p.t).attr("width",p.r-p.l).attr("height",p.b-p.t).attr("fill","none").attr("stroke","#111").attr("stroke-width",2.6);
 f.append("text").attr("x",p.tx).attr("y",p.ty).attr("text-anchor","middle").attr("font-size",20.2).text(p.title);
 f.append("text").attr("x",(p.l+p.r)/2).attr("y",p.b+53).attr("text-anchor","middle").attr("font-size",22.5).text("time [Titan years]");
 const cy=y(0);
 if(p.side==="left")f.append("text").attr("transform",`translate(30,${cy}) rotate(-90)`).attr("text-anchor","middle").attr("font-size",22.5).text("latitude [deg]");
 else f.append("text").attr("transform",`translate(951,${cy}) rotate(90)`).attr("text-anchor","middle").attr("font-size",22.5).text("latitude [deg]");
 // colourbar
 const cb=svg.append("g"), cbT=p.b+80.5, cbB=p.b+97.5;
 const cbL=p.kind==="soil"?100.7:545.7, cbR=p.kind==="soil"?437.7:881.7;
 const tipL=p.kind==="soil"?83.3:528, tipR=p.kind==="soil"?456.7:900.7;
 const under=p.kind==="soil"?soilUnder:evapUnder, over=p.kind==="soil"?soilOver:evapOver;
 const ticks=p.kind==="soil"?soilTicks:evapTicks;
 const cx=d3.scaleLinear().domain(d3.extent(ticks)).range([cbL,cbR]);
 const cells=p.kind==="soil"?d3.range(0,80,2).map(v=>({a:v,b:v+2,c:soilColor(v+1)})):evapColors.map((c,j)=>({a:evapLevels[j],b:evapLevels[j+1],c}));
 cb.selectAll("rect").data(cells).join("rect").attr("x",d=>cx(d.a)).attr("width",d=>cx(d.b)-cx(d.a)+.4).attr("y",cbT).attr("height",cbB-cbT).attr("fill",d=>d.c);
 const mid=(cbT+cbB)/2;
 cb.append("path").attr("d",`M${cbL},${cbT}L${tipL},${mid}L${cbL},${cbB}Z`).attr("fill",under);
 cb.append("path").attr("d",`M${cbR},${cbT}L${tipR},${mid}L${cbR},${cbB}Z`).attr("fill",over);
 cb.append("path").attr("d",`M${cbL},${cbT}L${tipL},${mid}L${cbL},${cbB}L${cbR},${cbB}L${tipR},${mid}L${cbR},${cbT}Z`).attr("fill","none").attr("stroke","#000").attr("stroke-width",2.4);
 ticks.forEach(t=>{cb.append("line").attr("x1",cx(t)).attr("x2",cx(t)).attr("y1",cbT).attr("y2",cbB).attr("stroke","#000").attr("stroke-width",1);
  cb.append("text").attr("x",cx(t)+2).attr("y",cbB+(p.lastRow?26.8:29.3)).attr("text-anchor","middle").attr("font-size",25.5).text(t);});
});
</script></body></html>
